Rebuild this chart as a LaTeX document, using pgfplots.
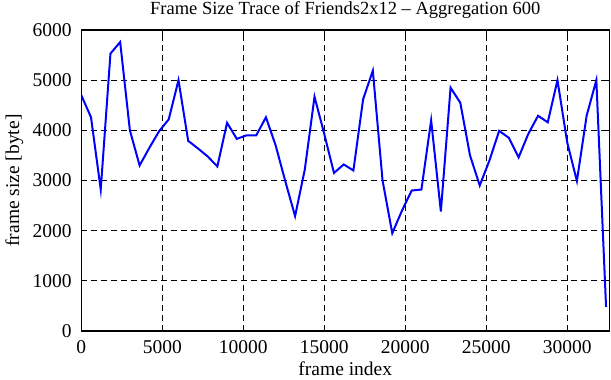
\documentclass[border=0pt]{standalone}
\usepackage{pgfplots}
\pgfplotsset{compat=1.18}
\usepackage{fontspec}
\setmainfont{Liberation Serif}
\begin{document}
\fontsize{19.5bp}{23bp}\selectfont
\begin{tikzpicture}
\begin{axis}[
  at={(0,0)}, anchor=south west,
  scale only axis,
  width=528bp, height=301bp,
  xmin=0, xmax=32600, ymin=0, ymax=6000,
  xtick={0,5000,10000,15000,20000,25000,30000},
  ytick={0,1000,2000,3000,4000,5000,6000},
  scaled ticks=false,
  /pgf/number format/.cd, 1000 sep={}, assume math mode=true, /pgfplots/.cd,
  tick align=inside,
  major tick length=6bp,
  tick style={black, line width=1bp},
  axis line style={black, line width=1.3bp},
  grid=major,
  major grid style={black, dash pattern=on 6bp off 4bp, line width=0.8bp},
  ticklabel style={font=\fontsize{19.5bp}{23bp}\selectfont},
  yticklabel style={xshift=-3bp},
  xticklabel style={yshift=-3bp},
  title={Frame Size Trace of Friends2x12 -- Aggregation 600},
  title style={font=\fontsize{18.5bp}{22bp}\selectfont, anchor=base, yshift=9.5bp, inner sep=0pt},
  xlabel={frame index},
  ylabel={frame size [byte]},
  label style={font=\fontsize{19.5bp}{23bp}\selectfont},
  xlabel style={yshift=5bp},
  ylabel style={yshift=-4bp},
]
\addplot[color={rgb,255:red,0;green,0;blue,255}, line width=2bp, mark=none] coordinates {
(0,4700) (600,4260) (1200,2820) (1800,5530) (2400,5760) (3000,4000)
(3600,3300) (4200,3650) (4800,3980) (5400,4220) (6000,5000) (6600,3790)
(7200,3640) (7800,3480) (8400,3280) (9000,4150) (9600,3830) (10200,3900)
(10800,3900) (11400,4260) (12000,3700) (12600,2980) (13200,2290) (13800,3220)
(14400,4670) (15000,3930) (15600,3150) (16200,3320) (16800,3200) (17400,4620)
(18000,5190) (18600,3000) (19200,1950) (19800,2400) (20400,2800) (21000,2820)
(21600,4200) (22200,2380) (22800,4850) (23400,4550) (24000,3500) (24600,2900)
(25200,3400) (25800,3990) (26400,3850) (27000,3460) (27600,3930) (28200,4290)
(28800,4160) (29400,5000) (30000,3760) (30600,2990) (31200,4290) (31800,5000)
(32400,480)
};
\end{axis}
\pgfresetboundingbox
\path[use as bounding box] (-81.3bp,-49bp) rectangle (529.7bp,331bp);
\end{tikzpicture}
\end{document}
